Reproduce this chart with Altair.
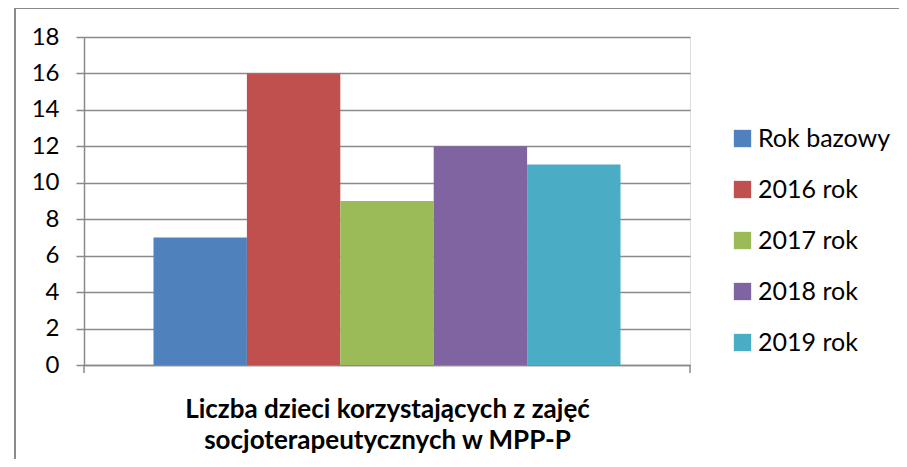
import altair as alt
import pandas as pd

kategorie = ["Rok bazowy", "2016 rok", "2017 rok", "2018 rok", "2019 rok"]
wartosci = [7, 16, 9, 12, 11]
kolory = ["#4F81BD", "#C0504D", "#9BBB59", "#8064A2", "#4BACC6"]
y_ticks = [0, 2, 4, 6, 8, 10, 12, 14, 16, 18]
tytul_x = ["Liczba dzieci korzystających z zajęć", "socjoterapeutycznych w MPP-P"]

df = pd.DataFrame({"grupa": ["A"] * len(kategorie), "seria": kategorie, "wartosc": wartosci})

W, H = 606, 328
GRID = "#8A8A8A"
FONT = "Lato"

bars = alt.Chart(df).mark_bar().encode(
    x=alt.X("grupa:N", scale=alt.Scale(paddingOuter=0.1488, paddingInner=0),
            axis=alt.Axis(labels=False, ticks=False, title=tytul_x, titleFontSize=26,
                          titleFontWeight="bold", titleColor="#000", titlePadding=31,
                          titleFont=FONT, titleLineHeight=31,
                          domainColor=GRID, domainWidth=1.5)),
    xOffset=alt.XOffset("seria:N", sort=kategorie, scale=alt.Scale(paddingInner=0, paddingOuter=0)),
    y=alt.Y("wartosc:Q", scale=alt.Scale(domain=[0, 18], nice=False),
            axis=alt.Axis(values=y_ticks, title=None, labelFontSize=24, labelColor="#000",
                          labelFont=FONT, labelPadding=17, tickSize=8, tickColor=GRID,
                          tickWidth=1.5, domainColor=GRID, domainWidth=1.5,
                          gridColor=GRID, gridWidth=1.5)),
    color=alt.Color("seria:N", sort=kategorie,
                    scale=alt.Scale(domain=kategorie, range=kolory),
                    legend=alt.Legend(title=None, orient="none", legendX=646, legendY=89,
                                      symbolType="square", symbolSize=300, symbolStrokeWidth=0,
                                      labelFontSize=25, labelFont=FONT, labelColor="#000",
                                      labelOffset=3, rowPadding=25)),
)

one = pd.DataFrame({"k": [0]})
ticks_x = alt.Chart(pd.DataFrame({"k": [0, 1]})).mark_rule(color=GRID, strokeWidth=1.5).encode(
    x=alt.X("k:Q", scale=alt.Scale(domain=[0, 1], range=[0, W]), axis=None),
    y=alt.value(H), y2=alt.value(H + 8),
)
border_left = alt.Chart(one).mark_rule(color=GRID, strokeWidth=2).encode(
    x=alt.value(-69), y=alt.value(-29), y2=alt.value(H + 94)
)
border_top = alt.Chart(one).mark_rule(color=GRID, strokeWidth=2).encode(
    x=alt.value(-69), x2=alt.value(W + 215), y=alt.value(-29)
)

chart = alt.layer(bars, ticks_x, border_left, border_top).resolve_scale(x="independent").properties(
    width=W, height=H,
    autosize=alt.AutoSizeParams(type="none"),
    padding={"left": 76, "top": 29, "right": 209, "bottom": 94},
).configure_view(stroke=None).configure(font=FONT)

chart.save("out.html", embed_options={"renderer": "svg", "actions": False})
